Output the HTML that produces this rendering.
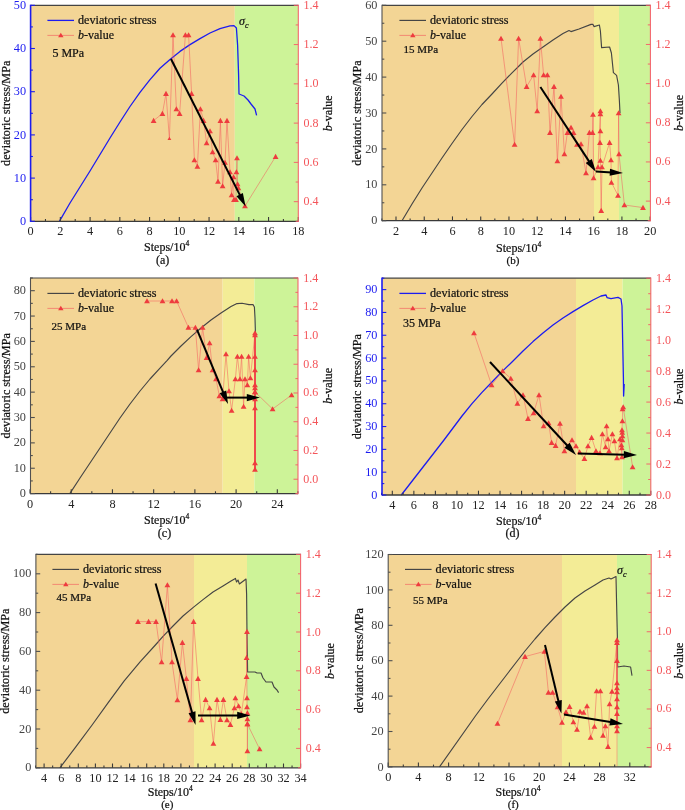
<!DOCTYPE html>
<html><head><meta charset="utf-8"><title>Figure</title>
<style>html,body{margin:0;padding:0;background:#fff}svg{display:block}svg text{font-family:"Liberation Serif","Times New Roman",serif;stroke-width:0.22px}
.k{stroke:#111}</style></head>
<body>
<svg width="685" height="810" viewBox="0 0 685 810">
<rect width="685" height="810" fill="#fff"/>
<g>
<rect x="30.6" y="5.3" width="204.2" height="216" fill="#f3d595"/>
<rect x="234.8" y="5.3" width="63.5" height="216" fill="#cdf398"/>
<polyline points="59.4,221.3 70,203 80,187 90,171 100,154.5 110,138 120,122 130,106.5 140,92.3 150,79.6 160,68.3 170,59.4 180,51.4 190,44.6 200,38.6 210,33 220,28.6 230,25.8 234,25.6 236.4,28 237.6,45 238.6,75 239,94 244,96 248,100 251,104 255,109 256.6,115.4" fill="none" stroke="#1c1cf0" stroke-width="1.3" stroke-linejoin="round"/>
<polyline points="153.6,120.6 162.4,113.6 166,93.6 169.4,138.6 173,35 176.4,109 179.6,113.6 185.4,35 188.6,35 191.6,93.6 194.4,160 197.4,166.4 200.4,109 203.6,120.6 206.6,143 210,131 212.6,152 215.6,160 218,181.4 220.4,120.6 222.6,186 225,162.4 227,120.6 230,172 231.6,195 233.6,177 234,199.6 236,199.6 236.4,172 237,158 237.6,184 238.4,188 245,206 275.6,156.6" fill="none" stroke="#f4555a" stroke-width="0.5" stroke-linejoin="round"/>
<polygon points="150.7,122.92 156.5,122.92 153.6,117.84" fill="#ee3c3e"/>
<polygon points="159.5,115.92 165.3,115.92 162.4,110.84" fill="#ee3c3e"/>
<polygon points="163.1,95.92 168.9,95.92 166,90.84" fill="#ee3c3e"/>
<polygon points="167.5,140.12 171.3,140.12 169.4,136.79" fill="#ee3c3e"/>
<polygon points="170.1,37.32 175.9,37.32 173,32.24" fill="#ee3c3e"/>
<polygon points="173.5,111.32 179.3,111.32 176.4,106.25" fill="#ee3c3e"/>
<polygon points="176.7,115.92 182.5,115.92 179.6,110.84" fill="#ee3c3e"/>
<polygon points="182.5,37.32 188.3,37.32 185.4,32.24" fill="#ee3c3e"/>
<polygon points="185.7,37.32 191.5,37.32 188.6,32.24" fill="#ee3c3e"/>
<polygon points="188.7,95.92 194.5,95.92 191.6,90.84" fill="#ee3c3e"/>
<polygon points="191.5,162.32 197.3,162.32 194.4,157.25" fill="#ee3c3e"/>
<polygon points="194.5,168.72 200.3,168.72 197.4,163.65" fill="#ee3c3e"/>
<polygon points="197.5,111.32 203.3,111.32 200.4,106.25" fill="#ee3c3e"/>
<polygon points="200.7,122.92 206.5,122.92 203.6,117.84" fill="#ee3c3e"/>
<polygon points="203.7,145.32 209.5,145.32 206.6,140.25" fill="#ee3c3e"/>
<polygon points="207.1,133.32 212.9,133.32 210,128.25" fill="#ee3c3e"/>
<polygon points="209.7,154.32 215.5,154.32 212.6,149.25" fill="#ee3c3e"/>
<polygon points="212.7,162.32 218.5,162.32 215.6,157.25" fill="#ee3c3e"/>
<polygon points="215.1,183.72 220.9,183.72 218,178.65" fill="#ee3c3e"/>
<polygon points="217.5,122.92 223.3,122.92 220.4,117.84" fill="#ee3c3e"/>
<polygon points="219.7,188.32 225.5,188.32 222.6,183.25" fill="#ee3c3e"/>
<polygon points="222.1,164.72 227.9,164.72 225,159.65" fill="#ee3c3e"/>
<polygon points="224.1,122.92 229.9,122.92 227,117.84" fill="#ee3c3e"/>
<polygon points="227.1,174.32 232.9,174.32 230,169.25" fill="#ee3c3e"/>
<polygon points="228.7,197.32 234.5,197.32 231.6,192.25" fill="#ee3c3e"/>
<polygon points="230.7,179.32 236.5,179.32 233.6,174.25" fill="#ee3c3e"/>
<polygon points="231.1,201.92 236.9,201.92 234,196.84" fill="#ee3c3e"/>
<polygon points="233.1,201.92 238.9,201.92 236,196.84" fill="#ee3c3e"/>
<polygon points="233.5,174.32 239.3,174.32 236.4,169.25" fill="#ee3c3e"/>
<polygon points="234.1,160.32 239.9,160.32 237,155.25" fill="#ee3c3e"/>
<polygon points="234.7,186.32 240.5,186.32 237.6,181.25" fill="#ee3c3e"/>
<polygon points="235.5,190.32 241.3,190.32 238.4,185.25" fill="#ee3c3e"/>
<polygon points="242.1,208.32 247.9,208.32 245,203.25" fill="#ee3c3e"/>
<polygon points="272.7,158.92 278.5,158.92 275.6,153.84" fill="#ee3c3e"/>
<line x1="171" y1="59" x2="240.54" y2="196.41" stroke="#000" stroke-width="2.0"/><polygon points="245.6,206.4 236.43,196.25 242.85,193" fill="#000"/>
<line x1="30.6" y1="5.3" x2="298.3" y2="5.3" stroke="#444" stroke-width="1.2"/>
<line x1="30.6" y1="221.3" x2="298.3" y2="221.3" stroke="#3a3a3a" stroke-width="1.3"/>
<line x1="30.6" y1="221.3" x2="30.6" y2="217" stroke="#3a3a3a" stroke-width="1.1"/>
<text x="30.6" y="235.4" text-anchor="middle" fill="#222" font-size="12.25">0</text>
<line x1="45.47" y1="221.3" x2="45.47" y2="219" stroke="#3a3a3a" stroke-width="1.1"/>
<line x1="60.34" y1="221.3" x2="60.34" y2="217" stroke="#3a3a3a" stroke-width="1.1"/>
<text x="60.34" y="235.4" text-anchor="middle" fill="#222" font-size="12.25">2</text>
<line x1="75.22" y1="221.3" x2="75.22" y2="219" stroke="#3a3a3a" stroke-width="1.1"/>
<line x1="90.09" y1="221.3" x2="90.09" y2="217" stroke="#3a3a3a" stroke-width="1.1"/>
<text x="90.09" y="235.4" text-anchor="middle" fill="#222" font-size="12.25">4</text>
<line x1="104.96" y1="221.3" x2="104.96" y2="219" stroke="#3a3a3a" stroke-width="1.1"/>
<line x1="119.83" y1="221.3" x2="119.83" y2="217" stroke="#3a3a3a" stroke-width="1.1"/>
<text x="119.83" y="235.4" text-anchor="middle" fill="#222" font-size="12.25">6</text>
<line x1="134.7" y1="221.3" x2="134.7" y2="219" stroke="#3a3a3a" stroke-width="1.1"/>
<line x1="149.58" y1="221.3" x2="149.58" y2="217" stroke="#3a3a3a" stroke-width="1.1"/>
<text x="149.58" y="235.4" text-anchor="middle" fill="#222" font-size="12.25">8</text>
<line x1="164.45" y1="221.3" x2="164.45" y2="219" stroke="#3a3a3a" stroke-width="1.1"/>
<line x1="179.32" y1="221.3" x2="179.32" y2="217" stroke="#3a3a3a" stroke-width="1.1"/>
<text x="179.32" y="235.4" text-anchor="middle" fill="#222" font-size="12.25">10</text>
<line x1="194.19" y1="221.3" x2="194.19" y2="219" stroke="#3a3a3a" stroke-width="1.1"/>
<line x1="209.06" y1="221.3" x2="209.06" y2="217" stroke="#3a3a3a" stroke-width="1.1"/>
<text x="209.06" y="235.4" text-anchor="middle" fill="#222" font-size="12.25">12</text>
<line x1="223.94" y1="221.3" x2="223.94" y2="219" stroke="#3a3a3a" stroke-width="1.1"/>
<line x1="238.81" y1="221.3" x2="238.81" y2="217" stroke="#3a3a3a" stroke-width="1.1"/>
<text x="238.81" y="235.4" text-anchor="middle" fill="#222" font-size="12.25">14</text>
<line x1="253.68" y1="221.3" x2="253.68" y2="219" stroke="#3a3a3a" stroke-width="1.1"/>
<line x1="268.55" y1="221.3" x2="268.55" y2="217" stroke="#3a3a3a" stroke-width="1.1"/>
<text x="268.55" y="235.4" text-anchor="middle" fill="#222" font-size="12.25">16</text>
<line x1="283.42" y1="221.3" x2="283.42" y2="219" stroke="#3a3a3a" stroke-width="1.1"/>
<line x1="298.3" y1="221.3" x2="298.3" y2="217" stroke="#3a3a3a" stroke-width="1.1"/>
<text x="298.3" y="235.4" text-anchor="middle" fill="#222" font-size="12.25">18</text>
<line x1="30.6" y1="4.7" x2="30.6" y2="221.9" stroke="#1c1cf0" stroke-width="1.6"/>
<line x1="30.6" y1="221.3" x2="34.9" y2="221.3" stroke="#1c1cf0" stroke-width="1.1"/>
<text x="26" y="224.9" text-anchor="end" fill="#1c1cf0" font-size="12.25">0</text>
<line x1="30.6" y1="199.7" x2="32.9" y2="199.7" stroke="#1c1cf0" stroke-width="1.1"/>
<line x1="30.6" y1="178.1" x2="34.9" y2="178.1" stroke="#1c1cf0" stroke-width="1.1"/>
<text x="26" y="181.7" text-anchor="end" fill="#1c1cf0" font-size="12.25">10</text>
<line x1="30.6" y1="156.5" x2="32.9" y2="156.5" stroke="#1c1cf0" stroke-width="1.1"/>
<line x1="30.6" y1="134.9" x2="34.9" y2="134.9" stroke="#1c1cf0" stroke-width="1.1"/>
<text x="26" y="138.5" text-anchor="end" fill="#1c1cf0" font-size="12.25">20</text>
<line x1="30.6" y1="113.3" x2="32.9" y2="113.3" stroke="#1c1cf0" stroke-width="1.1"/>
<line x1="30.6" y1="91.7" x2="34.9" y2="91.7" stroke="#1c1cf0" stroke-width="1.1"/>
<text x="26" y="95.3" text-anchor="end" fill="#1c1cf0" font-size="12.25">30</text>
<line x1="30.6" y1="70.1" x2="32.9" y2="70.1" stroke="#1c1cf0" stroke-width="1.1"/>
<line x1="30.6" y1="48.5" x2="34.9" y2="48.5" stroke="#1c1cf0" stroke-width="1.1"/>
<text x="26" y="52.1" text-anchor="end" fill="#1c1cf0" font-size="12.25">40</text>
<line x1="30.6" y1="26.9" x2="32.9" y2="26.9" stroke="#1c1cf0" stroke-width="1.1"/>
<line x1="30.6" y1="5.3" x2="34.9" y2="5.3" stroke="#1c1cf0" stroke-width="1.1"/>
<text x="26" y="8.9" text-anchor="end" fill="#1c1cf0" font-size="12.25">50</text>
<line x1="298.3" y1="4.7" x2="298.3" y2="221.9" stroke="#f4606a" stroke-width="1.05"/>
<line x1="298.3" y1="221.3" x2="295.7" y2="221.3" stroke="#f4606a" stroke-width="0.95"/>
<line x1="298.3" y1="201.66" x2="293.8" y2="201.66" stroke="#f4606a" stroke-width="0.95"/>
<text x="303.5" y="205.16" fill="#f4555a" font-size="12">0.4</text>
<line x1="298.3" y1="182.03" x2="295.7" y2="182.03" stroke="#f4606a" stroke-width="0.95"/>
<line x1="298.3" y1="162.39" x2="293.8" y2="162.39" stroke="#f4606a" stroke-width="0.95"/>
<text x="303.5" y="165.89" fill="#f4555a" font-size="12">0.6</text>
<line x1="298.3" y1="142.75" x2="295.7" y2="142.75" stroke="#f4606a" stroke-width="0.95"/>
<line x1="298.3" y1="123.12" x2="293.8" y2="123.12" stroke="#f4606a" stroke-width="0.95"/>
<text x="303.5" y="126.62" fill="#f4555a" font-size="12">0.8</text>
<line x1="298.3" y1="103.48" x2="295.7" y2="103.48" stroke="#f4606a" stroke-width="0.95"/>
<line x1="298.3" y1="83.85" x2="293.8" y2="83.85" stroke="#f4606a" stroke-width="0.95"/>
<text x="303.5" y="87.35" fill="#f4555a" font-size="12">1.0</text>
<line x1="298.3" y1="64.21" x2="295.7" y2="64.21" stroke="#f4606a" stroke-width="0.95"/>
<line x1="298.3" y1="44.57" x2="293.8" y2="44.57" stroke="#f4606a" stroke-width="0.95"/>
<text x="303.5" y="48.07" fill="#f4555a" font-size="12">1.2</text>
<line x1="298.3" y1="24.94" x2="295.7" y2="24.94" stroke="#f4606a" stroke-width="0.95"/>
<line x1="298.3" y1="5.3" x2="293.8" y2="5.3" stroke="#f4606a" stroke-width="0.95"/>
<text x="303.5" y="8.8" fill="#f4555a" font-size="12">1.4</text>
<line x1="47.4" y1="20.4" x2="74" y2="20.4" stroke="#1c1cf0" stroke-width="1.3"/>
<text x="78" y="24" font-size="12.15" fill="#111" class="k">deviatoric stress</text>
<line x1="47.4" y1="35.4" x2="74" y2="35.4" stroke="#f4555a" stroke-width="0.6"/>
<polygon points="58.1,37.36 63.5,37.36 60.8,32.64" fill="#ee3c3e"/>
<text x="78" y="39" font-size="12" fill="#111" class="k"><tspan font-style="italic">b</tspan>-value</text>
<text x="52.4" y="57.4" font-size="12" fill="#111" class="k">5 MPa</text>
<text transform="translate(9.6,113.3) rotate(-90)" text-anchor="middle" font-size="12.2" fill="#111" class="k">deviatoric stress/MPa</text>
<text transform="translate(331.6,113.3) rotate(-90)" text-anchor="middle" font-size="12" fill="#111" class="k"><tspan font-style="italic">b</tspan>-value</text>
<text x="166.6" y="250.6" text-anchor="middle" font-size="12" fill="#111" class="k">Steps/10<tspan font-size="7.5" dy="-5">4</tspan></text>
<text x="162.7" y="263.6" text-anchor="middle" font-size="12" fill="#111" class="k">(a)</text>
<text x="239" y="25" font-size="12" font-style="italic" fill="#111" class="k">σ<tspan font-size="8" dy="2.5">c</tspan></text>
</g>
<g>
<rect x="382" y="5.3" width="212" height="215.4" fill="#f3d595"/>
<rect x="594" y="5.3" width="25" height="215.4" fill="#f3ec96"/>
<rect x="619" y="5.3" width="31.4" height="215.4" fill="#cdf398"/>
<polyline points="402,220.7 412,204 422,188 432,173 442,158 452,143.5 462,129.5 472,116.5 482,104.5 492,94 502,83.2 512,72.8 519,66 523,62 533,54 543,47 553,40 563,33.6 569,30.6 571,31.6 579,29 591,24.4 593,24.4 594,26.6 599.4,25 600.4,31 601.6,47.6 609.6,47 611.4,53 613.4,72.6 616.6,75.4 618.4,85 619.4,101 620,113" fill="none" stroke="#454545" stroke-width="1.15" stroke-linejoin="round"/>
<polyline points="501,38.4 514.6,144.4 518.6,38.4 526.6,86.6 533.6,75 537.2,111 540.4,38.4 543.6,75 547.4,75 550,132.6 554,86.6 557.4,161 561,96.4 564.4,154 567.4,132.6 571,127.4 573.6,132.6 577,144.4 581,144 586,173 589.4,132.6 592.6,132.6 593,114.4 593.6,178 598,167 600.4,111 600.4,114 600.4,131 600,142.6 600.4,160.4 601.2,210.6 602,167 609.6,142.6 611,160 611.4,182.4 618,195.4 618.6,113 619,154 624.4,205 643,207.6" fill="none" stroke="#f4555a" stroke-width="0.5" stroke-linejoin="round"/>
<polygon points="498.1,40.72 503.9,40.72 501,35.64" fill="#ee3c3e"/>
<polygon points="511.7,146.72 517.5,146.72 514.6,141.65" fill="#ee3c3e"/>
<polygon points="515.7,40.72 521.5,40.72 518.6,35.64" fill="#ee3c3e"/>
<polygon points="523.7,88.92 529.5,88.92 526.6,83.84" fill="#ee3c3e"/>
<polygon points="530.7,77.32 536.5,77.32 533.6,72.25" fill="#ee3c3e"/>
<polygon points="534.3,113.32 540.1,113.32 537.2,108.25" fill="#ee3c3e"/>
<polygon points="537.5,40.72 543.3,40.72 540.4,35.64" fill="#ee3c3e"/>
<polygon points="540.7,77.32 546.5,77.32 543.6,72.25" fill="#ee3c3e"/>
<polygon points="544.5,77.32 550.3,77.32 547.4,72.25" fill="#ee3c3e"/>
<polygon points="547.1,134.92 552.9,134.92 550,129.84" fill="#ee3c3e"/>
<polygon points="551.1,88.92 556.9,88.92 554,83.84" fill="#ee3c3e"/>
<polygon points="554.5,163.32 560.3,163.32 557.4,158.25" fill="#ee3c3e"/>
<polygon points="558.1,98.72 563.9,98.72 561,93.65" fill="#ee3c3e"/>
<polygon points="561.5,156.32 567.3,156.32 564.4,151.25" fill="#ee3c3e"/>
<polygon points="564.5,134.92 570.3,134.92 567.4,129.84" fill="#ee3c3e"/>
<polygon points="568.1,129.72 573.9,129.72 571,124.65" fill="#ee3c3e"/>
<polygon points="570.7,134.92 576.5,134.92 573.6,129.84" fill="#ee3c3e"/>
<polygon points="574.1,146.72 579.9,146.72 577,141.65" fill="#ee3c3e"/>
<polygon points="578.1,146.32 583.9,146.32 581,141.25" fill="#ee3c3e"/>
<polygon points="583.1,175.32 588.9,175.32 586,170.25" fill="#ee3c3e"/>
<polygon points="586.5,134.92 592.3,134.92 589.4,129.84" fill="#ee3c3e"/>
<polygon points="589.7,134.92 595.5,134.92 592.6,129.84" fill="#ee3c3e"/>
<polygon points="590.1,116.72 595.9,116.72 593,111.65" fill="#ee3c3e"/>
<polygon points="590.7,180.32 596.5,180.32 593.6,175.25" fill="#ee3c3e"/>
<polygon points="595.1,169.32 600.9,169.32 598,164.25" fill="#ee3c3e"/>
<polygon points="597.5,113.32 603.3,113.32 600.4,108.25" fill="#ee3c3e"/>
<polygon points="597.5,116.32 603.3,116.32 600.4,111.25" fill="#ee3c3e"/>
<polygon points="597.5,133.32 603.3,133.32 600.4,128.25" fill="#ee3c3e"/>
<polygon points="597.1,144.92 602.9,144.92 600,139.84" fill="#ee3c3e"/>
<polygon points="597.5,162.72 603.3,162.72 600.4,157.65" fill="#ee3c3e"/>
<polygon points="598.3,212.92 604.1,212.92 601.2,207.84" fill="#ee3c3e"/>
<polygon points="599.1,169.32 604.9,169.32 602,164.25" fill="#ee3c3e"/>
<polygon points="606.7,144.92 612.5,144.92 609.6,139.84" fill="#ee3c3e"/>
<polygon points="608.1,162.32 613.9,162.32 611,157.25" fill="#ee3c3e"/>
<polygon points="608.5,184.72 614.3,184.72 611.4,179.65" fill="#ee3c3e"/>
<polygon points="615.1,197.72 620.9,197.72 618,192.65" fill="#ee3c3e"/>
<polygon points="615.7,115.32 621.5,115.32 618.6,110.25" fill="#ee3c3e"/>
<polygon points="616.1,156.32 621.9,156.32 619,151.25" fill="#ee3c3e"/>
<polygon points="621.5,207.32 627.3,207.32 624.4,202.25" fill="#ee3c3e"/>
<polygon points="640.1,209.92 645.9,209.92 643,204.84" fill="#ee3c3e"/>
<line x1="540.4" y1="87" x2="589.87" y2="162.63" stroke="#000" stroke-width="2.0"/><polygon points="596,172 585.76,162.92 591.79,158.98" fill="#000"/>
<line x1="596" y1="171.5" x2="611.82" y2="172.38" stroke="#000" stroke-width="2.0"/><polygon points="623,173 609.62,175.86 610.02,168.67" fill="#000"/>
<line x1="382" y1="5.3" x2="650.4" y2="5.3" stroke="#444" stroke-width="1.2"/>
<line x1="382" y1="220.7" x2="650.4" y2="220.7" stroke="#3a3a3a" stroke-width="1.3"/>
<line x1="381.88" y1="220.7" x2="381.88" y2="218.4" stroke="#3a3a3a" stroke-width="1.1"/>
<line x1="396" y1="220.7" x2="396" y2="216.4" stroke="#3a3a3a" stroke-width="1.1"/>
<text x="396" y="235.4" text-anchor="middle" fill="#222" font-size="12.25">2</text>
<line x1="410.12" y1="220.7" x2="410.12" y2="218.4" stroke="#3a3a3a" stroke-width="1.1"/>
<line x1="424.24" y1="220.7" x2="424.24" y2="216.4" stroke="#3a3a3a" stroke-width="1.1"/>
<text x="424.24" y="235.4" text-anchor="middle" fill="#222" font-size="12.25">4</text>
<line x1="438.36" y1="220.7" x2="438.36" y2="218.4" stroke="#3a3a3a" stroke-width="1.1"/>
<line x1="452.48" y1="220.7" x2="452.48" y2="216.4" stroke="#3a3a3a" stroke-width="1.1"/>
<text x="452.48" y="235.4" text-anchor="middle" fill="#222" font-size="12.25">6</text>
<line x1="466.6" y1="220.7" x2="466.6" y2="218.4" stroke="#3a3a3a" stroke-width="1.1"/>
<line x1="480.72" y1="220.7" x2="480.72" y2="216.4" stroke="#3a3a3a" stroke-width="1.1"/>
<text x="480.72" y="235.4" text-anchor="middle" fill="#222" font-size="12.25">8</text>
<line x1="494.84" y1="220.7" x2="494.84" y2="218.4" stroke="#3a3a3a" stroke-width="1.1"/>
<line x1="508.96" y1="220.7" x2="508.96" y2="216.4" stroke="#3a3a3a" stroke-width="1.1"/>
<text x="508.96" y="235.4" text-anchor="middle" fill="#222" font-size="12.25">10</text>
<line x1="523.08" y1="220.7" x2="523.08" y2="218.4" stroke="#3a3a3a" stroke-width="1.1"/>
<line x1="537.2" y1="220.7" x2="537.2" y2="216.4" stroke="#3a3a3a" stroke-width="1.1"/>
<text x="537.2" y="235.4" text-anchor="middle" fill="#222" font-size="12.25">12</text>
<line x1="551.32" y1="220.7" x2="551.32" y2="218.4" stroke="#3a3a3a" stroke-width="1.1"/>
<line x1="565.44" y1="220.7" x2="565.44" y2="216.4" stroke="#3a3a3a" stroke-width="1.1"/>
<text x="565.44" y="235.4" text-anchor="middle" fill="#222" font-size="12.25">14</text>
<line x1="579.56" y1="220.7" x2="579.56" y2="218.4" stroke="#3a3a3a" stroke-width="1.1"/>
<line x1="593.68" y1="220.7" x2="593.68" y2="216.4" stroke="#3a3a3a" stroke-width="1.1"/>
<text x="593.68" y="235.4" text-anchor="middle" fill="#222" font-size="12.25">16</text>
<line x1="607.8" y1="220.7" x2="607.8" y2="218.4" stroke="#3a3a3a" stroke-width="1.1"/>
<line x1="621.92" y1="220.7" x2="621.92" y2="216.4" stroke="#3a3a3a" stroke-width="1.1"/>
<text x="621.92" y="235.4" text-anchor="middle" fill="#222" font-size="12.25">18</text>
<line x1="636.04" y1="220.7" x2="636.04" y2="218.4" stroke="#3a3a3a" stroke-width="1.1"/>
<line x1="650.16" y1="220.7" x2="650.16" y2="216.4" stroke="#3a3a3a" stroke-width="1.1"/>
<text x="650.16" y="235.4" text-anchor="middle" fill="#222" font-size="12.25">20</text>
<line x1="382" y1="4.7" x2="382" y2="221.3" stroke="#505050" stroke-width="1.1"/>
<line x1="382" y1="220.7" x2="386.3" y2="220.7" stroke="#505050" stroke-width="1.1"/>
<text x="377.4" y="224.3" text-anchor="end" fill="#444" font-size="12.25">0</text>
<line x1="382" y1="202.75" x2="384.3" y2="202.75" stroke="#505050" stroke-width="1.1"/>
<line x1="382" y1="184.8" x2="386.3" y2="184.8" stroke="#505050" stroke-width="1.1"/>
<text x="377.4" y="188.4" text-anchor="end" fill="#444" font-size="12.25">10</text>
<line x1="382" y1="166.85" x2="384.3" y2="166.85" stroke="#505050" stroke-width="1.1"/>
<line x1="382" y1="148.9" x2="386.3" y2="148.9" stroke="#505050" stroke-width="1.1"/>
<text x="377.4" y="152.5" text-anchor="end" fill="#444" font-size="12.25">20</text>
<line x1="382" y1="130.95" x2="384.3" y2="130.95" stroke="#505050" stroke-width="1.1"/>
<line x1="382" y1="113" x2="386.3" y2="113" stroke="#505050" stroke-width="1.1"/>
<text x="377.4" y="116.6" text-anchor="end" fill="#444" font-size="12.25">30</text>
<line x1="382" y1="95.05" x2="384.3" y2="95.05" stroke="#505050" stroke-width="1.1"/>
<line x1="382" y1="77.1" x2="386.3" y2="77.1" stroke="#505050" stroke-width="1.1"/>
<text x="377.4" y="80.7" text-anchor="end" fill="#444" font-size="12.25">40</text>
<line x1="382" y1="59.15" x2="384.3" y2="59.15" stroke="#505050" stroke-width="1.1"/>
<line x1="382" y1="41.2" x2="386.3" y2="41.2" stroke="#505050" stroke-width="1.1"/>
<text x="377.4" y="44.8" text-anchor="end" fill="#444" font-size="12.25">50</text>
<line x1="382" y1="23.25" x2="384.3" y2="23.25" stroke="#505050" stroke-width="1.1"/>
<line x1="382" y1="5.3" x2="386.3" y2="5.3" stroke="#505050" stroke-width="1.1"/>
<text x="377.4" y="8.9" text-anchor="end" fill="#444" font-size="12.25">60</text>
<line x1="650.4" y1="4.7" x2="650.4" y2="221.3" stroke="#f4606a" stroke-width="1.05"/>
<line x1="650.4" y1="220.7" x2="647.8" y2="220.7" stroke="#f4606a" stroke-width="0.95"/>
<line x1="650.4" y1="201.12" x2="645.9" y2="201.12" stroke="#f4606a" stroke-width="0.95"/>
<text x="655.6" y="204.62" fill="#f4555a" font-size="12">0.4</text>
<line x1="650.4" y1="181.54" x2="647.8" y2="181.54" stroke="#f4606a" stroke-width="0.95"/>
<line x1="650.4" y1="161.95" x2="645.9" y2="161.95" stroke="#f4606a" stroke-width="0.95"/>
<text x="655.6" y="165.45" fill="#f4555a" font-size="12">0.6</text>
<line x1="650.4" y1="142.37" x2="647.8" y2="142.37" stroke="#f4606a" stroke-width="0.95"/>
<line x1="650.4" y1="122.79" x2="645.9" y2="122.79" stroke="#f4606a" stroke-width="0.95"/>
<text x="655.6" y="126.29" fill="#f4555a" font-size="12">0.8</text>
<line x1="650.4" y1="103.21" x2="647.8" y2="103.21" stroke="#f4606a" stroke-width="0.95"/>
<line x1="650.4" y1="83.63" x2="645.9" y2="83.63" stroke="#f4606a" stroke-width="0.95"/>
<text x="655.6" y="87.13" fill="#f4555a" font-size="12">1.0</text>
<line x1="650.4" y1="64.05" x2="647.8" y2="64.05" stroke="#f4606a" stroke-width="0.95"/>
<line x1="650.4" y1="44.46" x2="645.9" y2="44.46" stroke="#f4606a" stroke-width="0.95"/>
<text x="655.6" y="47.96" fill="#f4555a" font-size="12">1.2</text>
<line x1="650.4" y1="24.88" x2="647.8" y2="24.88" stroke="#f4606a" stroke-width="0.95"/>
<line x1="650.4" y1="5.3" x2="645.9" y2="5.3" stroke="#f4606a" stroke-width="0.95"/>
<text x="655.6" y="8.8" fill="#f4555a" font-size="12">1.4</text>
<line x1="399.4" y1="20.4" x2="426" y2="20.4" stroke="#454545" stroke-width="1.15"/>
<text x="430" y="24" font-size="12.15" fill="#111" class="k">deviatoric stress</text>
<line x1="399.4" y1="35.4" x2="426" y2="35.4" stroke="#f4555a" stroke-width="0.6"/>
<polygon points="410.1,37.36 415.5,37.36 412.8,32.64" fill="#ee3c3e"/>
<text x="430" y="39" font-size="12" fill="#111" class="k"><tspan font-style="italic">b</tspan>-value</text>
<text x="403.6" y="52.6" font-size="11" fill="#111" class="k">15 MPa</text>
<text transform="translate(361,113) rotate(-90)" text-anchor="middle" font-size="12.2" fill="#111" class="k">deviatoric stress/MPa</text>
<text transform="translate(683,113) rotate(-90)" text-anchor="middle" font-size="12" fill="#111" class="k"><tspan font-style="italic">b</tspan>-value</text>
<text x="518.6" y="251.6" text-anchor="middle" font-size="12" fill="#111" class="k">Steps/10<tspan font-size="7.5" dy="-5">4</tspan></text>
<text x="513" y="263.6" text-anchor="middle" font-size="11" fill="#111" class="k">(b)</text>
</g>
<g>
<rect x="30.5" y="278" width="192.1" height="215.6" fill="#f3d595"/>
<rect x="222.6" y="278" width="31.8" height="215.6" fill="#f3ec96"/>
<rect x="254.4" y="278" width="43.6" height="215.6" fill="#cdf398"/>
<polyline points="69.8,493.6 80,478 90,463 100,448 110,433 120,418 130,404 140,391 150,379 160,368.2 167,360.6 171,356 181,346 191,336.6 201,328 211,320 221,313 231,306.6 237,303.6 242,303.2 249,304.6 253,304.6 254.4,307 255,318 255.4,332" fill="none" stroke="#454545" stroke-width="1.15" stroke-linejoin="round"/>
<polyline points="147,301 162.5,301 172,301 176.6,301 188.4,327.4 195.4,327.4 198.6,370 202.6,327.4 206.6,357.6 209.6,343 212.6,370 216,379 219.4,396 222.6,399 226,354 229,391 231.6,410.4 235.4,379 237.4,356.4 240,379 241.6,356.4 243.6,406.4 245,379 247.4,385 248.6,356.4 250.4,378 255,333 255,335 255,356.4 255,370 255,385 255,388 255,392 255,399 255,408 255,463 255,469.4 255,392 272.6,409 291.6,395" fill="none" stroke="#f4555a" stroke-width="0.5" stroke-linejoin="round"/>
<line x1="255" y1="332" x2="255" y2="470" stroke="#f04a4c" stroke-width="2"/>
<polygon points="144.1,303.32 149.9,303.32 147,298.25" fill="#ee3c3e"/>
<polygon points="159.6,303.32 165.4,303.32 162.5,298.25" fill="#ee3c3e"/>
<polygon points="169.1,303.32 174.9,303.32 172,298.25" fill="#ee3c3e"/>
<polygon points="173.7,303.32 179.5,303.32 176.6,298.25" fill="#ee3c3e"/>
<polygon points="185.5,329.72 191.3,329.72 188.4,324.64" fill="#ee3c3e"/>
<polygon points="192.5,329.72 198.3,329.72 195.4,324.64" fill="#ee3c3e"/>
<polygon points="195.7,372.32 201.5,372.32 198.6,367.25" fill="#ee3c3e"/>
<polygon points="199.7,329.72 205.5,329.72 202.6,324.64" fill="#ee3c3e"/>
<polygon points="203.7,359.92 209.5,359.92 206.6,354.85" fill="#ee3c3e"/>
<polygon points="206.7,345.32 212.5,345.32 209.6,340.25" fill="#ee3c3e"/>
<polygon points="209.7,372.32 215.5,372.32 212.6,367.25" fill="#ee3c3e"/>
<polygon points="213.1,381.32 218.9,381.32 216,376.25" fill="#ee3c3e"/>
<polygon points="216.5,398.32 222.3,398.32 219.4,393.25" fill="#ee3c3e"/>
<polygon points="219.7,401.32 225.5,401.32 222.6,396.25" fill="#ee3c3e"/>
<polygon points="223.1,356.32 228.9,356.32 226,351.25" fill="#ee3c3e"/>
<polygon points="226.1,393.32 231.9,393.32 229,388.25" fill="#ee3c3e"/>
<polygon points="228.7,412.72 234.5,412.72 231.6,407.64" fill="#ee3c3e"/>
<polygon points="232.5,381.32 238.3,381.32 235.4,376.25" fill="#ee3c3e"/>
<polygon points="234.5,358.72 240.3,358.72 237.4,353.64" fill="#ee3c3e"/>
<polygon points="237.1,381.32 242.9,381.32 240,376.25" fill="#ee3c3e"/>
<polygon points="238.7,358.72 244.5,358.72 241.6,353.64" fill="#ee3c3e"/>
<polygon points="240.7,408.72 246.5,408.72 243.6,403.64" fill="#ee3c3e"/>
<polygon points="242.1,381.32 247.9,381.32 245,376.25" fill="#ee3c3e"/>
<polygon points="244.5,387.32 250.3,387.32 247.4,382.25" fill="#ee3c3e"/>
<polygon points="245.7,358.72 251.5,358.72 248.6,353.64" fill="#ee3c3e"/>
<polygon points="247.5,380.32 253.3,380.32 250.4,375.25" fill="#ee3c3e"/>
<polygon points="252.1,335.32 257.9,335.32 255,330.25" fill="#ee3c3e"/>
<polygon points="252.1,337.32 257.9,337.32 255,332.25" fill="#ee3c3e"/>
<polygon points="252.1,358.72 257.9,358.72 255,353.64" fill="#ee3c3e"/>
<polygon points="252.1,372.32 257.9,372.32 255,367.25" fill="#ee3c3e"/>
<polygon points="252.1,387.32 257.9,387.32 255,382.25" fill="#ee3c3e"/>
<polygon points="252.1,390.32 257.9,390.32 255,385.25" fill="#ee3c3e"/>
<polygon points="252.1,394.32 257.9,394.32 255,389.25" fill="#ee3c3e"/>
<polygon points="252.1,401.32 257.9,401.32 255,396.25" fill="#ee3c3e"/>
<polygon points="252.1,410.32 257.9,410.32 255,405.25" fill="#ee3c3e"/>
<polygon points="252.1,465.32 257.9,465.32 255,460.25" fill="#ee3c3e"/>
<polygon points="252.1,471.72 257.9,471.72 255,466.64" fill="#ee3c3e"/>
<polygon points="252.1,394.32 257.9,394.32 255,389.25" fill="#ee3c3e"/>
<polygon points="269.7,411.32 275.5,411.32 272.6,406.25" fill="#ee3c3e"/>
<polygon points="288.7,397.32 294.5,397.32 291.6,392.25" fill="#ee3c3e"/>
<line x1="197" y1="329.6" x2="223.69" y2="393.66" stroke="#000" stroke-width="2.0"/><polygon points="228,404 219.6,393.2 226.25,390.43" fill="#000"/>
<line x1="227" y1="397.6" x2="248.8" y2="397.6" stroke="#000" stroke-width="2.0"/><polygon points="260,397.6 246.8,401.2 246.8,394" fill="#000"/>
<line x1="30.5" y1="278" x2="298" y2="278" stroke="#444" stroke-width="1.2"/>
<line x1="30.5" y1="493.6" x2="298" y2="493.6" stroke="#3a3a3a" stroke-width="1.3"/>
<line x1="30" y1="493.6" x2="30" y2="489.3" stroke="#3a3a3a" stroke-width="1.1"/>
<text x="30" y="508" text-anchor="middle" fill="#222" font-size="12.25">0</text>
<line x1="50.61" y1="493.6" x2="50.61" y2="491.3" stroke="#3a3a3a" stroke-width="1.1"/>
<line x1="71.22" y1="493.6" x2="71.22" y2="489.3" stroke="#3a3a3a" stroke-width="1.1"/>
<text x="71.22" y="508" text-anchor="middle" fill="#222" font-size="12.25">4</text>
<line x1="91.83" y1="493.6" x2="91.83" y2="491.3" stroke="#3a3a3a" stroke-width="1.1"/>
<line x1="112.44" y1="493.6" x2="112.44" y2="489.3" stroke="#3a3a3a" stroke-width="1.1"/>
<text x="112.44" y="508" text-anchor="middle" fill="#222" font-size="12.25">8</text>
<line x1="133.05" y1="493.6" x2="133.05" y2="491.3" stroke="#3a3a3a" stroke-width="1.1"/>
<line x1="153.66" y1="493.6" x2="153.66" y2="489.3" stroke="#3a3a3a" stroke-width="1.1"/>
<text x="153.66" y="508" text-anchor="middle" fill="#222" font-size="12.25">12</text>
<line x1="174.27" y1="493.6" x2="174.27" y2="491.3" stroke="#3a3a3a" stroke-width="1.1"/>
<line x1="194.88" y1="493.6" x2="194.88" y2="489.3" stroke="#3a3a3a" stroke-width="1.1"/>
<text x="194.88" y="508" text-anchor="middle" fill="#222" font-size="12.25">16</text>
<line x1="215.49" y1="493.6" x2="215.49" y2="491.3" stroke="#3a3a3a" stroke-width="1.1"/>
<line x1="236.1" y1="493.6" x2="236.1" y2="489.3" stroke="#3a3a3a" stroke-width="1.1"/>
<text x="236.1" y="508" text-anchor="middle" fill="#222" font-size="12.25">20</text>
<line x1="256.71" y1="493.6" x2="256.71" y2="491.3" stroke="#3a3a3a" stroke-width="1.1"/>
<line x1="277.32" y1="493.6" x2="277.32" y2="489.3" stroke="#3a3a3a" stroke-width="1.1"/>
<text x="277.32" y="508" text-anchor="middle" fill="#222" font-size="12.25">24</text>
<line x1="297.93" y1="493.6" x2="297.93" y2="491.3" stroke="#3a3a3a" stroke-width="1.1"/>
<line x1="30.5" y1="277.4" x2="30.5" y2="494.2" stroke="#505050" stroke-width="1.1"/>
<line x1="30.5" y1="493.6" x2="34.8" y2="493.6" stroke="#505050" stroke-width="1.1"/>
<text x="25.9" y="497.2" text-anchor="end" fill="#444" font-size="12.25">0</text>
<line x1="30.5" y1="480.92" x2="32.8" y2="480.92" stroke="#505050" stroke-width="1.1"/>
<line x1="30.5" y1="468.24" x2="34.8" y2="468.24" stroke="#505050" stroke-width="1.1"/>
<text x="25.9" y="471.84" text-anchor="end" fill="#444" font-size="12.25">10</text>
<line x1="30.5" y1="455.55" x2="32.8" y2="455.55" stroke="#505050" stroke-width="1.1"/>
<line x1="30.5" y1="442.87" x2="34.8" y2="442.87" stroke="#505050" stroke-width="1.1"/>
<text x="25.9" y="446.47" text-anchor="end" fill="#444" font-size="12.25">20</text>
<line x1="30.5" y1="430.19" x2="32.8" y2="430.19" stroke="#505050" stroke-width="1.1"/>
<line x1="30.5" y1="417.51" x2="34.8" y2="417.51" stroke="#505050" stroke-width="1.1"/>
<text x="25.9" y="421.11" text-anchor="end" fill="#444" font-size="12.25">30</text>
<line x1="30.5" y1="404.82" x2="32.8" y2="404.82" stroke="#505050" stroke-width="1.1"/>
<line x1="30.5" y1="392.14" x2="34.8" y2="392.14" stroke="#505050" stroke-width="1.1"/>
<text x="25.9" y="395.74" text-anchor="end" fill="#444" font-size="12.25">40</text>
<line x1="30.5" y1="379.46" x2="32.8" y2="379.46" stroke="#505050" stroke-width="1.1"/>
<line x1="30.5" y1="366.78" x2="34.8" y2="366.78" stroke="#505050" stroke-width="1.1"/>
<text x="25.9" y="370.38" text-anchor="end" fill="#444" font-size="12.25">50</text>
<line x1="30.5" y1="354.09" x2="32.8" y2="354.09" stroke="#505050" stroke-width="1.1"/>
<line x1="30.5" y1="341.41" x2="34.8" y2="341.41" stroke="#505050" stroke-width="1.1"/>
<text x="25.9" y="345.01" text-anchor="end" fill="#444" font-size="12.25">60</text>
<line x1="30.5" y1="328.73" x2="32.8" y2="328.73" stroke="#505050" stroke-width="1.1"/>
<line x1="30.5" y1="316.05" x2="34.8" y2="316.05" stroke="#505050" stroke-width="1.1"/>
<text x="25.9" y="319.65" text-anchor="end" fill="#444" font-size="12.25">70</text>
<line x1="30.5" y1="303.36" x2="32.8" y2="303.36" stroke="#505050" stroke-width="1.1"/>
<line x1="30.5" y1="290.68" x2="34.8" y2="290.68" stroke="#505050" stroke-width="1.1"/>
<text x="25.9" y="294.28" text-anchor="end" fill="#444" font-size="12.25">80</text>
<line x1="30.5" y1="278" x2="32.8" y2="278" stroke="#505050" stroke-width="1.1"/>
<line x1="298" y1="277.4" x2="298" y2="494.2" stroke="#f4606a" stroke-width="1.05"/>
<line x1="298" y1="493.6" x2="295.4" y2="493.6" stroke="#f4606a" stroke-width="0.95"/>
<line x1="298" y1="479.23" x2="293.5" y2="479.23" stroke="#f4606a" stroke-width="0.95"/>
<text x="303.2" y="482.73" fill="#f4555a" font-size="12">0.0</text>
<line x1="298" y1="464.85" x2="295.4" y2="464.85" stroke="#f4606a" stroke-width="0.95"/>
<line x1="298" y1="450.48" x2="293.5" y2="450.48" stroke="#f4606a" stroke-width="0.95"/>
<text x="303.2" y="453.98" fill="#f4555a" font-size="12">0.2</text>
<line x1="298" y1="436.11" x2="295.4" y2="436.11" stroke="#f4606a" stroke-width="0.95"/>
<line x1="298" y1="421.73" x2="293.5" y2="421.73" stroke="#f4606a" stroke-width="0.95"/>
<text x="303.2" y="425.23" fill="#f4555a" font-size="12">0.4</text>
<line x1="298" y1="407.36" x2="295.4" y2="407.36" stroke="#f4606a" stroke-width="0.95"/>
<line x1="298" y1="392.99" x2="293.5" y2="392.99" stroke="#f4606a" stroke-width="0.95"/>
<text x="303.2" y="396.49" fill="#f4555a" font-size="12">0.6</text>
<line x1="298" y1="378.61" x2="295.4" y2="378.61" stroke="#f4606a" stroke-width="0.95"/>
<line x1="298" y1="364.24" x2="293.5" y2="364.24" stroke="#f4606a" stroke-width="0.95"/>
<text x="303.2" y="367.74" fill="#f4555a" font-size="12">0.8</text>
<line x1="298" y1="349.87" x2="295.4" y2="349.87" stroke="#f4606a" stroke-width="0.95"/>
<line x1="298" y1="335.49" x2="293.5" y2="335.49" stroke="#f4606a" stroke-width="0.95"/>
<text x="303.2" y="338.99" fill="#f4555a" font-size="12">1.0</text>
<line x1="298" y1="321.12" x2="295.4" y2="321.12" stroke="#f4606a" stroke-width="0.95"/>
<line x1="298" y1="306.75" x2="293.5" y2="306.75" stroke="#f4606a" stroke-width="0.95"/>
<text x="303.2" y="310.25" fill="#f4555a" font-size="12">1.2</text>
<line x1="298" y1="292.37" x2="295.4" y2="292.37" stroke="#f4606a" stroke-width="0.95"/>
<line x1="298" y1="278" x2="293.5" y2="278" stroke="#f4606a" stroke-width="0.95"/>
<text x="303.2" y="281.5" fill="#f4555a" font-size="12">1.4</text>
<line x1="47.4" y1="293.4" x2="74" y2="293.4" stroke="#454545" stroke-width="1.15"/>
<text x="78" y="297" font-size="12.15" fill="#111" class="k">deviatoric stress</text>
<line x1="47.4" y1="308.4" x2="74" y2="308.4" stroke="#f4555a" stroke-width="0.6"/>
<polygon points="58.1,310.36 63.5,310.36 60.8,305.63" fill="#ee3c3e"/>
<text x="78" y="312" font-size="12" fill="#111" class="k"><tspan font-style="italic">b</tspan>-value</text>
<text x="51.6" y="329.6" font-size="11" fill="#111" class="k">25 MPa</text>
<text transform="translate(9.6,385.8) rotate(-90)" text-anchor="middle" font-size="12.2" fill="#111" class="k">deviatoric stress/MPa</text>
<text transform="translate(331.6,385.8) rotate(-90)" text-anchor="middle" font-size="12" fill="#111" class="k"><tspan font-style="italic">b</tspan>-value</text>
<text x="166.6" y="523.6" text-anchor="middle" font-size="12" fill="#111" class="k">Steps/10<tspan font-size="7.5" dy="-5">4</tspan></text>
<text x="164.5" y="536.6" text-anchor="middle" font-size="12" fill="#111" class="k">(c)</text>
</g>
<g>
<rect x="382" y="278.2" width="194" height="216.8" fill="#f3d595"/>
<rect x="576" y="278.2" width="46.6" height="216.8" fill="#f3ec96"/>
<rect x="622.6" y="278.2" width="28.2" height="216.8" fill="#cdf398"/>
<polyline points="401.3,495 444,440 462,416 472,403.6 482,392.4 492,382 502,371.6 512,362 519,355 523,351 533,341.6 543,333 553,325 563,318 573,311.6 583,305.6 593,300 601,296 606,295 607,297.6 611,298.6 618,297.4 621,299 622,306 622.6,338 623.4,378 623.6,396 624.2,384" fill="none" stroke="#1c1cf0" stroke-width="1.3" stroke-linejoin="round"/>
<polyline points="474,333 491.6,385 502.6,371 510.8,378.4 517.4,403.4 523,395 528,418.6 533.6,413 539,395 543.6,426 548.6,423 551.6,442.6 555.6,445.6 560,423.4 564.4,451 568,446 572,440 576,446 579.6,452 584.4,458.6 588,446 591.6,437.6 596,451 600,453 602.4,434 605.6,447 606.6,426 608,439 609,451 612.4,434 614.4,441 617,458 620,439 621.4,445 622,457 621.8,448 622.4,440 622.4,436 622.2,432.5 622,430 622.4,421 622.6,409 623.2,407 632.6,467" fill="none" stroke="#f4555a" stroke-width="0.5" stroke-linejoin="round"/>
<polygon points="471.1,335.32 476.9,335.32 474,330.25" fill="#ee3c3e"/>
<polygon points="488.7,387.32 494.5,387.32 491.6,382.25" fill="#ee3c3e"/>
<polygon points="499.7,373.32 505.5,373.32 502.6,368.25" fill="#ee3c3e"/>
<polygon points="507.9,380.72 513.7,380.72 510.8,375.64" fill="#ee3c3e"/>
<polygon points="514.5,405.72 520.3,405.72 517.4,400.64" fill="#ee3c3e"/>
<polygon points="520.1,397.32 525.9,397.32 523,392.25" fill="#ee3c3e"/>
<polygon points="525.1,420.92 530.9,420.92 528,415.85" fill="#ee3c3e"/>
<polygon points="530.7,415.32 536.5,415.32 533.6,410.25" fill="#ee3c3e"/>
<polygon points="536.1,397.32 541.9,397.32 539,392.25" fill="#ee3c3e"/>
<polygon points="540.7,428.32 546.5,428.32 543.6,423.25" fill="#ee3c3e"/>
<polygon points="545.7,425.32 551.5,425.32 548.6,420.25" fill="#ee3c3e"/>
<polygon points="548.7,444.92 554.5,444.92 551.6,439.85" fill="#ee3c3e"/>
<polygon points="552.7,447.92 558.5,447.92 555.6,442.85" fill="#ee3c3e"/>
<polygon points="557.1,425.72 562.9,425.72 560,420.64" fill="#ee3c3e"/>
<polygon points="561.5,453.32 567.3,453.32 564.4,448.25" fill="#ee3c3e"/>
<polygon points="565.1,448.32 570.9,448.32 568,443.25" fill="#ee3c3e"/>
<polygon points="569.1,442.32 574.9,442.32 572,437.25" fill="#ee3c3e"/>
<polygon points="573.1,448.32 578.9,448.32 576,443.25" fill="#ee3c3e"/>
<polygon points="576.7,454.32 582.5,454.32 579.6,449.25" fill="#ee3c3e"/>
<polygon points="581.5,460.92 587.3,460.92 584.4,455.85" fill="#ee3c3e"/>
<polygon points="585.1,448.32 590.9,448.32 588,443.25" fill="#ee3c3e"/>
<polygon points="588.7,439.92 594.5,439.92 591.6,434.85" fill="#ee3c3e"/>
<polygon points="593.1,453.32 598.9,453.32 596,448.25" fill="#ee3c3e"/>
<polygon points="597.1,455.32 602.9,455.32 600,450.25" fill="#ee3c3e"/>
<polygon points="599.5,436.32 605.3,436.32 602.4,431.25" fill="#ee3c3e"/>
<polygon points="602.7,449.32 608.5,449.32 605.6,444.25" fill="#ee3c3e"/>
<polygon points="603.7,428.32 609.5,428.32 606.6,423.25" fill="#ee3c3e"/>
<polygon points="605.1,441.32 610.9,441.32 608,436.25" fill="#ee3c3e"/>
<polygon points="606.1,453.32 611.9,453.32 609,448.25" fill="#ee3c3e"/>
<polygon points="609.5,436.32 615.3,436.32 612.4,431.25" fill="#ee3c3e"/>
<polygon points="611.5,443.32 617.3,443.32 614.4,438.25" fill="#ee3c3e"/>
<polygon points="614.1,460.32 619.9,460.32 617,455.25" fill="#ee3c3e"/>
<polygon points="617.1,441.32 622.9,441.32 620,436.25" fill="#ee3c3e"/>
<polygon points="618.5,447.32 624.3,447.32 621.4,442.25" fill="#ee3c3e"/>
<polygon points="619.1,459.32 624.9,459.32 622,454.25" fill="#ee3c3e"/>
<polygon points="618.9,450.32 624.7,450.32 621.8,445.25" fill="#ee3c3e"/>
<polygon points="619.5,442.32 625.3,442.32 622.4,437.25" fill="#ee3c3e"/>
<polygon points="619.5,438.32 625.3,438.32 622.4,433.25" fill="#ee3c3e"/>
<polygon points="619.3,434.82 625.1,434.82 622.2,429.75" fill="#ee3c3e"/>
<polygon points="619.1,432.32 624.9,432.32 622,427.25" fill="#ee3c3e"/>
<polygon points="619.5,423.32 625.3,423.32 622.4,418.25" fill="#ee3c3e"/>
<polygon points="619.7,411.32 625.5,411.32 622.6,406.25" fill="#ee3c3e"/>
<polygon points="620.3,409.32 626.1,409.32 623.2,404.25" fill="#ee3c3e"/>
<polygon points="629.7,469.32 635.5,469.32 632.6,464.25" fill="#ee3c3e"/>
<line x1="490" y1="362" x2="568.4" y2="446.78" stroke="#000" stroke-width="2.0"/><polygon points="576,455 564.39,447.75 569.68,442.86" fill="#000"/>
<line x1="578" y1="453.6" x2="625.8" y2="454.73" stroke="#000" stroke-width="2.0"/><polygon points="637,455 623.72,458.29 623.89,451.09" fill="#000"/>
<line x1="382" y1="278.2" x2="650.8" y2="278.2" stroke="#444" stroke-width="1.2"/>
<line x1="382" y1="495" x2="650.8" y2="495" stroke="#3a3a3a" stroke-width="1.3"/>
<line x1="381.55" y1="495" x2="381.55" y2="492.7" stroke="#3a3a3a" stroke-width="1.1"/>
<line x1="392.32" y1="495" x2="392.32" y2="490.7" stroke="#3a3a3a" stroke-width="1.1"/>
<text x="392.32" y="509.4" text-anchor="middle" fill="#222" font-size="12.25">4</text>
<line x1="403.09" y1="495" x2="403.09" y2="492.7" stroke="#3a3a3a" stroke-width="1.1"/>
<line x1="413.86" y1="495" x2="413.86" y2="490.7" stroke="#3a3a3a" stroke-width="1.1"/>
<text x="413.86" y="509.4" text-anchor="middle" fill="#222" font-size="12.25">6</text>
<line x1="424.63" y1="495" x2="424.63" y2="492.7" stroke="#3a3a3a" stroke-width="1.1"/>
<line x1="435.4" y1="495" x2="435.4" y2="490.7" stroke="#3a3a3a" stroke-width="1.1"/>
<text x="435.4" y="509.4" text-anchor="middle" fill="#222" font-size="12.25">8</text>
<line x1="446.17" y1="495" x2="446.17" y2="492.7" stroke="#3a3a3a" stroke-width="1.1"/>
<line x1="456.94" y1="495" x2="456.94" y2="490.7" stroke="#3a3a3a" stroke-width="1.1"/>
<text x="456.94" y="509.4" text-anchor="middle" fill="#222" font-size="12.25">10</text>
<line x1="467.71" y1="495" x2="467.71" y2="492.7" stroke="#3a3a3a" stroke-width="1.1"/>
<line x1="478.48" y1="495" x2="478.48" y2="490.7" stroke="#3a3a3a" stroke-width="1.1"/>
<text x="478.48" y="509.4" text-anchor="middle" fill="#222" font-size="12.25">12</text>
<line x1="489.25" y1="495" x2="489.25" y2="492.7" stroke="#3a3a3a" stroke-width="1.1"/>
<line x1="500.02" y1="495" x2="500.02" y2="490.7" stroke="#3a3a3a" stroke-width="1.1"/>
<text x="500.02" y="509.4" text-anchor="middle" fill="#222" font-size="12.25">14</text>
<line x1="510.79" y1="495" x2="510.79" y2="492.7" stroke="#3a3a3a" stroke-width="1.1"/>
<line x1="521.56" y1="495" x2="521.56" y2="490.7" stroke="#3a3a3a" stroke-width="1.1"/>
<text x="521.56" y="509.4" text-anchor="middle" fill="#222" font-size="12.25">16</text>
<line x1="532.33" y1="495" x2="532.33" y2="492.7" stroke="#3a3a3a" stroke-width="1.1"/>
<line x1="543.1" y1="495" x2="543.1" y2="490.7" stroke="#3a3a3a" stroke-width="1.1"/>
<text x="543.1" y="509.4" text-anchor="middle" fill="#222" font-size="12.25">18</text>
<line x1="553.87" y1="495" x2="553.87" y2="492.7" stroke="#3a3a3a" stroke-width="1.1"/>
<line x1="564.64" y1="495" x2="564.64" y2="490.7" stroke="#3a3a3a" stroke-width="1.1"/>
<text x="564.64" y="509.4" text-anchor="middle" fill="#222" font-size="12.25">20</text>
<line x1="575.41" y1="495" x2="575.41" y2="492.7" stroke="#3a3a3a" stroke-width="1.1"/>
<line x1="586.18" y1="495" x2="586.18" y2="490.7" stroke="#3a3a3a" stroke-width="1.1"/>
<text x="586.18" y="509.4" text-anchor="middle" fill="#222" font-size="12.25">22</text>
<line x1="596.95" y1="495" x2="596.95" y2="492.7" stroke="#3a3a3a" stroke-width="1.1"/>
<line x1="607.72" y1="495" x2="607.72" y2="490.7" stroke="#3a3a3a" stroke-width="1.1"/>
<text x="607.72" y="509.4" text-anchor="middle" fill="#222" font-size="12.25">24</text>
<line x1="618.49" y1="495" x2="618.49" y2="492.7" stroke="#3a3a3a" stroke-width="1.1"/>
<line x1="629.26" y1="495" x2="629.26" y2="490.7" stroke="#3a3a3a" stroke-width="1.1"/>
<text x="629.26" y="509.4" text-anchor="middle" fill="#222" font-size="12.25">26</text>
<line x1="640.03" y1="495" x2="640.03" y2="492.7" stroke="#3a3a3a" stroke-width="1.1"/>
<line x1="650.8" y1="495" x2="650.8" y2="490.7" stroke="#3a3a3a" stroke-width="1.1"/>
<text x="650.8" y="509.4" text-anchor="middle" fill="#222" font-size="12.25">28</text>
<line x1="382" y1="277.6" x2="382" y2="495.6" stroke="#1c1cf0" stroke-width="1.6"/>
<line x1="382" y1="495" x2="386.3" y2="495" stroke="#1c1cf0" stroke-width="1.1"/>
<text x="377.4" y="498.6" text-anchor="end" fill="#1c1cf0" font-size="12.25">0</text>
<line x1="382" y1="483.59" x2="384.3" y2="483.59" stroke="#1c1cf0" stroke-width="1.1"/>
<line x1="382" y1="472.18" x2="386.3" y2="472.18" stroke="#1c1cf0" stroke-width="1.1"/>
<text x="377.4" y="475.78" text-anchor="end" fill="#1c1cf0" font-size="12.25">10</text>
<line x1="382" y1="460.77" x2="384.3" y2="460.77" stroke="#1c1cf0" stroke-width="1.1"/>
<line x1="382" y1="449.36" x2="386.3" y2="449.36" stroke="#1c1cf0" stroke-width="1.1"/>
<text x="377.4" y="452.96" text-anchor="end" fill="#1c1cf0" font-size="12.25">20</text>
<line x1="382" y1="437.95" x2="384.3" y2="437.95" stroke="#1c1cf0" stroke-width="1.1"/>
<line x1="382" y1="426.54" x2="386.3" y2="426.54" stroke="#1c1cf0" stroke-width="1.1"/>
<text x="377.4" y="430.14" text-anchor="end" fill="#1c1cf0" font-size="12.25">30</text>
<line x1="382" y1="415.13" x2="384.3" y2="415.13" stroke="#1c1cf0" stroke-width="1.1"/>
<line x1="382" y1="403.72" x2="386.3" y2="403.72" stroke="#1c1cf0" stroke-width="1.1"/>
<text x="377.4" y="407.32" text-anchor="end" fill="#1c1cf0" font-size="12.25">40</text>
<line x1="382" y1="392.31" x2="384.3" y2="392.31" stroke="#1c1cf0" stroke-width="1.1"/>
<line x1="382" y1="380.89" x2="386.3" y2="380.89" stroke="#1c1cf0" stroke-width="1.1"/>
<text x="377.4" y="384.49" text-anchor="end" fill="#1c1cf0" font-size="12.25">50</text>
<line x1="382" y1="369.48" x2="384.3" y2="369.48" stroke="#1c1cf0" stroke-width="1.1"/>
<line x1="382" y1="358.07" x2="386.3" y2="358.07" stroke="#1c1cf0" stroke-width="1.1"/>
<text x="377.4" y="361.67" text-anchor="end" fill="#1c1cf0" font-size="12.25">60</text>
<line x1="382" y1="346.66" x2="384.3" y2="346.66" stroke="#1c1cf0" stroke-width="1.1"/>
<line x1="382" y1="335.25" x2="386.3" y2="335.25" stroke="#1c1cf0" stroke-width="1.1"/>
<text x="377.4" y="338.85" text-anchor="end" fill="#1c1cf0" font-size="12.25">70</text>
<line x1="382" y1="323.84" x2="384.3" y2="323.84" stroke="#1c1cf0" stroke-width="1.1"/>
<line x1="382" y1="312.43" x2="386.3" y2="312.43" stroke="#1c1cf0" stroke-width="1.1"/>
<text x="377.4" y="316.03" text-anchor="end" fill="#1c1cf0" font-size="12.25">80</text>
<line x1="382" y1="301.02" x2="384.3" y2="301.02" stroke="#1c1cf0" stroke-width="1.1"/>
<line x1="382" y1="289.61" x2="386.3" y2="289.61" stroke="#1c1cf0" stroke-width="1.1"/>
<text x="377.4" y="293.21" text-anchor="end" fill="#1c1cf0" font-size="12.25">90</text>
<line x1="382" y1="278.2" x2="384.3" y2="278.2" stroke="#1c1cf0" stroke-width="1.1"/>
<line x1="650.8" y1="277.6" x2="650.8" y2="495.6" stroke="#f4606a" stroke-width="1.05"/>
<line x1="650.8" y1="495" x2="646.3" y2="495" stroke="#f4606a" stroke-width="0.95"/>
<text x="656" y="498.5" fill="#f4555a" font-size="12">0.0</text>
<line x1="650.8" y1="479.51" x2="648.2" y2="479.51" stroke="#f4606a" stroke-width="0.95"/>
<line x1="650.8" y1="464.03" x2="646.3" y2="464.03" stroke="#f4606a" stroke-width="0.95"/>
<text x="656" y="467.53" fill="#f4555a" font-size="12">0.2</text>
<line x1="650.8" y1="448.54" x2="648.2" y2="448.54" stroke="#f4606a" stroke-width="0.95"/>
<line x1="650.8" y1="433.06" x2="646.3" y2="433.06" stroke="#f4606a" stroke-width="0.95"/>
<text x="656" y="436.56" fill="#f4555a" font-size="12">0.4</text>
<line x1="650.8" y1="417.57" x2="648.2" y2="417.57" stroke="#f4606a" stroke-width="0.95"/>
<line x1="650.8" y1="402.09" x2="646.3" y2="402.09" stroke="#f4606a" stroke-width="0.95"/>
<text x="656" y="405.59" fill="#f4555a" font-size="12">0.6</text>
<line x1="650.8" y1="386.6" x2="648.2" y2="386.6" stroke="#f4606a" stroke-width="0.95"/>
<line x1="650.8" y1="371.11" x2="646.3" y2="371.11" stroke="#f4606a" stroke-width="0.95"/>
<text x="656" y="374.61" fill="#f4555a" font-size="12">0.8</text>
<line x1="650.8" y1="355.63" x2="648.2" y2="355.63" stroke="#f4606a" stroke-width="0.95"/>
<line x1="650.8" y1="340.14" x2="646.3" y2="340.14" stroke="#f4606a" stroke-width="0.95"/>
<text x="656" y="343.64" fill="#f4555a" font-size="12">1.0</text>
<line x1="650.8" y1="324.66" x2="648.2" y2="324.66" stroke="#f4606a" stroke-width="0.95"/>
<line x1="650.8" y1="309.17" x2="646.3" y2="309.17" stroke="#f4606a" stroke-width="0.95"/>
<text x="656" y="312.67" fill="#f4555a" font-size="12">1.2</text>
<line x1="650.8" y1="293.69" x2="648.2" y2="293.69" stroke="#f4606a" stroke-width="0.95"/>
<line x1="650.8" y1="278.2" x2="646.3" y2="278.2" stroke="#f4606a" stroke-width="0.95"/>
<text x="656" y="281.7" fill="#f4555a" font-size="12">1.4</text>
<line x1="399.4" y1="293.4" x2="426" y2="293.4" stroke="#1c1cf0" stroke-width="1.3"/>
<text x="430" y="297" font-size="12.15" fill="#111" class="k">deviatoric stress</text>
<line x1="399.4" y1="308.4" x2="426" y2="308.4" stroke="#f4555a" stroke-width="0.6"/>
<polygon points="410.1,310.36 415.5,310.36 412.8,305.63" fill="#ee3c3e"/>
<text x="430" y="312" font-size="12" fill="#111" class="k"><tspan font-style="italic">b</tspan>-value</text>
<text x="403" y="326.6" font-size="12" fill="#111" class="k">35 MPa</text>
<text transform="translate(361,386.6) rotate(-90)" text-anchor="middle" font-size="12.2" fill="#111" class="k">deviatoric stress/MPa</text>
<text transform="translate(683,386.6) rotate(-90)" text-anchor="middle" font-size="12" fill="#111" class="k"><tspan font-style="italic">b</tspan>-value</text>
<text x="518.6" y="524.6" text-anchor="middle" font-size="12" fill="#111" class="k">Steps/10<tspan font-size="7.5" dy="-5">4</tspan></text>
<text x="512.5" y="537" text-anchor="middle" font-size="12" fill="#111" class="k">(d)</text>
</g>
<g>
<rect x="35.9" y="554.4" width="158.1" height="213.4" fill="#f3d595"/>
<rect x="194" y="554.4" width="53" height="213.4" fill="#f3ec96"/>
<rect x="247" y="554.4" width="53.6" height="213.4" fill="#cdf398"/>
<polyline points="59.9,767.8 76,746.7 92.1,725 108.2,702.6 124.2,680.9 140.3,661.7 156.3,644 163,636.3 173,626 183,616 193,607.6 203,599.6 213,592 223,586 231,581 235.4,578.4 236.6,582 238,580 239.4,584 246,579 246.6,594 247,634 247.6,672 255,672 257,673 261,673 263,678 266,682 272,682 274,687 277,690 278.6,692.6" fill="none" stroke="#454545" stroke-width="1.15" stroke-linejoin="round"/>
<polyline points="138,621.6 148.6,621.6 156,621.6 161.6,662 167.4,585 172,662 177.4,700 182.4,642.6 186.4,678.6 190.4,720 193.6,621.6 198,678.6 201.6,720 205.6,699.6 209.6,708 213.4,743.4 217,699.6 220.4,719.6 223.4,699.6 227,720 230.4,724.6 234.4,708 235.4,698 238.6,706 241.4,714 246.6,676.6 247,631.6 246.6,657.6 247,698 247,707 247.4,713 247.4,719 247.4,724 247.4,751 247.4,724 259.6,749" fill="none" stroke="#f4555a" stroke-width="0.5" stroke-linejoin="round"/>
<polygon points="135.1,623.92 140.9,623.92 138,618.85" fill="#ee3c3e"/>
<polygon points="145.7,623.92 151.5,623.92 148.6,618.85" fill="#ee3c3e"/>
<polygon points="153.1,623.92 158.9,623.92 156,618.85" fill="#ee3c3e"/>
<polygon points="158.7,664.32 164.5,664.32 161.6,659.25" fill="#ee3c3e"/>
<polygon points="164.5,587.32 170.3,587.32 167.4,582.25" fill="#ee3c3e"/>
<polygon points="169.1,664.32 174.9,664.32 172,659.25" fill="#ee3c3e"/>
<polygon points="174.5,702.32 180.3,702.32 177.4,697.25" fill="#ee3c3e"/>
<polygon points="179.5,644.92 185.3,644.92 182.4,639.85" fill="#ee3c3e"/>
<polygon points="183.5,680.92 189.3,680.92 186.4,675.85" fill="#ee3c3e"/>
<polygon points="187.5,722.32 193.3,722.32 190.4,717.25" fill="#ee3c3e"/>
<polygon points="190.7,623.92 196.5,623.92 193.6,618.85" fill="#ee3c3e"/>
<polygon points="195.1,680.92 200.9,680.92 198,675.85" fill="#ee3c3e"/>
<polygon points="198.7,722.32 204.5,722.32 201.6,717.25" fill="#ee3c3e"/>
<polygon points="202.7,701.92 208.5,701.92 205.6,696.85" fill="#ee3c3e"/>
<polygon points="206.7,710.32 212.5,710.32 209.6,705.25" fill="#ee3c3e"/>
<polygon points="210.5,745.72 216.3,745.72 213.4,740.64" fill="#ee3c3e"/>
<polygon points="214.1,701.92 219.9,701.92 217,696.85" fill="#ee3c3e"/>
<polygon points="217.5,721.92 223.3,721.92 220.4,716.85" fill="#ee3c3e"/>
<polygon points="220.5,701.92 226.3,701.92 223.4,696.85" fill="#ee3c3e"/>
<polygon points="224.1,722.32 229.9,722.32 227,717.25" fill="#ee3c3e"/>
<polygon points="227.5,726.92 233.3,726.92 230.4,721.85" fill="#ee3c3e"/>
<polygon points="231.5,710.32 237.3,710.32 234.4,705.25" fill="#ee3c3e"/>
<polygon points="232.5,700.32 238.3,700.32 235.4,695.25" fill="#ee3c3e"/>
<polygon points="235.7,708.32 241.5,708.32 238.6,703.25" fill="#ee3c3e"/>
<polygon points="238.5,716.32 244.3,716.32 241.4,711.25" fill="#ee3c3e"/>
<polygon points="243.7,678.92 249.5,678.92 246.6,673.85" fill="#ee3c3e"/>
<polygon points="244.1,633.92 249.9,633.92 247,628.85" fill="#ee3c3e"/>
<polygon points="243.7,659.92 249.5,659.92 246.6,654.85" fill="#ee3c3e"/>
<polygon points="244.1,700.32 249.9,700.32 247,695.25" fill="#ee3c3e"/>
<polygon points="244.1,709.32 249.9,709.32 247,704.25" fill="#ee3c3e"/>
<polygon points="244.5,715.32 250.3,715.32 247.4,710.25" fill="#ee3c3e"/>
<polygon points="244.5,721.32 250.3,721.32 247.4,716.25" fill="#ee3c3e"/>
<polygon points="244.5,726.32 250.3,726.32 247.4,721.25" fill="#ee3c3e"/>
<polygon points="244.5,753.32 250.3,753.32 247.4,748.25" fill="#ee3c3e"/>
<polygon points="244.5,726.32 250.3,726.32 247.4,721.25" fill="#ee3c3e"/>
<polygon points="256.7,751.32 262.5,751.32 259.6,746.25" fill="#ee3c3e"/>
<line x1="155.6" y1="583.6" x2="192.55" y2="714.22" stroke="#000" stroke-width="2.0"/><polygon points="195.6,725 188.54,713.28 195.47,711.32" fill="#000"/>
<line x1="198" y1="715.4" x2="239.2" y2="715.4" stroke="#000" stroke-width="2.0"/><polygon points="250.4,715.4 237.2,719 237.2,711.8" fill="#000"/>
<line x1="35.9" y1="554.4" x2="300.6" y2="554.4" stroke="#444" stroke-width="1.2"/>
<line x1="35.9" y1="767.8" x2="300.6" y2="767.8" stroke="#3a3a3a" stroke-width="1.3"/>
<line x1="35.55" y1="767.8" x2="35.55" y2="765.5" stroke="#3a3a3a" stroke-width="1.1"/>
<line x1="44.1" y1="767.8" x2="44.1" y2="763.5" stroke="#3a3a3a" stroke-width="1.1"/>
<text x="44.1" y="781.5" text-anchor="middle" fill="#222" font-size="12.25">4</text>
<line x1="52.65" y1="767.8" x2="52.65" y2="765.5" stroke="#3a3a3a" stroke-width="1.1"/>
<line x1="61.2" y1="767.8" x2="61.2" y2="763.5" stroke="#3a3a3a" stroke-width="1.1"/>
<text x="61.2" y="781.5" text-anchor="middle" fill="#222" font-size="12.25">6</text>
<line x1="69.75" y1="767.8" x2="69.75" y2="765.5" stroke="#3a3a3a" stroke-width="1.1"/>
<line x1="78.3" y1="767.8" x2="78.3" y2="763.5" stroke="#3a3a3a" stroke-width="1.1"/>
<text x="78.3" y="781.5" text-anchor="middle" fill="#222" font-size="12.25">8</text>
<line x1="86.85" y1="767.8" x2="86.85" y2="765.5" stroke="#3a3a3a" stroke-width="1.1"/>
<line x1="95.4" y1="767.8" x2="95.4" y2="763.5" stroke="#3a3a3a" stroke-width="1.1"/>
<text x="95.4" y="781.5" text-anchor="middle" fill="#222" font-size="12.25">10</text>
<line x1="103.95" y1="767.8" x2="103.95" y2="765.5" stroke="#3a3a3a" stroke-width="1.1"/>
<line x1="112.5" y1="767.8" x2="112.5" y2="763.5" stroke="#3a3a3a" stroke-width="1.1"/>
<text x="112.5" y="781.5" text-anchor="middle" fill="#222" font-size="12.25">12</text>
<line x1="121.05" y1="767.8" x2="121.05" y2="765.5" stroke="#3a3a3a" stroke-width="1.1"/>
<line x1="129.6" y1="767.8" x2="129.6" y2="763.5" stroke="#3a3a3a" stroke-width="1.1"/>
<text x="129.6" y="781.5" text-anchor="middle" fill="#222" font-size="12.25">14</text>
<line x1="138.15" y1="767.8" x2="138.15" y2="765.5" stroke="#3a3a3a" stroke-width="1.1"/>
<line x1="146.7" y1="767.8" x2="146.7" y2="763.5" stroke="#3a3a3a" stroke-width="1.1"/>
<text x="146.7" y="781.5" text-anchor="middle" fill="#222" font-size="12.25">16</text>
<line x1="155.25" y1="767.8" x2="155.25" y2="765.5" stroke="#3a3a3a" stroke-width="1.1"/>
<line x1="163.8" y1="767.8" x2="163.8" y2="763.5" stroke="#3a3a3a" stroke-width="1.1"/>
<text x="163.8" y="781.5" text-anchor="middle" fill="#222" font-size="12.25">18</text>
<line x1="172.35" y1="767.8" x2="172.35" y2="765.5" stroke="#3a3a3a" stroke-width="1.1"/>
<line x1="180.9" y1="767.8" x2="180.9" y2="763.5" stroke="#3a3a3a" stroke-width="1.1"/>
<text x="180.9" y="781.5" text-anchor="middle" fill="#222" font-size="12.25">20</text>
<line x1="189.45" y1="767.8" x2="189.45" y2="765.5" stroke="#3a3a3a" stroke-width="1.1"/>
<line x1="198" y1="767.8" x2="198" y2="763.5" stroke="#3a3a3a" stroke-width="1.1"/>
<text x="198" y="781.5" text-anchor="middle" fill="#222" font-size="12.25">22</text>
<line x1="206.55" y1="767.8" x2="206.55" y2="765.5" stroke="#3a3a3a" stroke-width="1.1"/>
<line x1="215.1" y1="767.8" x2="215.1" y2="763.5" stroke="#3a3a3a" stroke-width="1.1"/>
<text x="215.1" y="781.5" text-anchor="middle" fill="#222" font-size="12.25">24</text>
<line x1="223.65" y1="767.8" x2="223.65" y2="765.5" stroke="#3a3a3a" stroke-width="1.1"/>
<line x1="232.2" y1="767.8" x2="232.2" y2="763.5" stroke="#3a3a3a" stroke-width="1.1"/>
<text x="232.2" y="781.5" text-anchor="middle" fill="#222" font-size="12.25">26</text>
<line x1="240.75" y1="767.8" x2="240.75" y2="765.5" stroke="#3a3a3a" stroke-width="1.1"/>
<line x1="249.3" y1="767.8" x2="249.3" y2="763.5" stroke="#3a3a3a" stroke-width="1.1"/>
<text x="249.3" y="781.5" text-anchor="middle" fill="#222" font-size="12.25">28</text>
<line x1="257.85" y1="767.8" x2="257.85" y2="765.5" stroke="#3a3a3a" stroke-width="1.1"/>
<line x1="266.4" y1="767.8" x2="266.4" y2="763.5" stroke="#3a3a3a" stroke-width="1.1"/>
<text x="266.4" y="781.5" text-anchor="middle" fill="#222" font-size="12.25">30</text>
<line x1="274.95" y1="767.8" x2="274.95" y2="765.5" stroke="#3a3a3a" stroke-width="1.1"/>
<line x1="283.5" y1="767.8" x2="283.5" y2="763.5" stroke="#3a3a3a" stroke-width="1.1"/>
<text x="283.5" y="781.5" text-anchor="middle" fill="#222" font-size="12.25">32</text>
<line x1="292.05" y1="767.8" x2="292.05" y2="765.5" stroke="#3a3a3a" stroke-width="1.1"/>
<line x1="300.6" y1="767.8" x2="300.6" y2="763.5" stroke="#3a3a3a" stroke-width="1.1"/>
<text x="300.6" y="781.5" text-anchor="middle" fill="#222" font-size="12.25">34</text>
<line x1="35.9" y1="553.8" x2="35.9" y2="768.4" stroke="#505050" stroke-width="1.1"/>
<line x1="35.9" y1="767.8" x2="40.2" y2="767.8" stroke="#505050" stroke-width="1.1"/>
<text x="31.3" y="771.4" text-anchor="end" fill="#444" font-size="12.25">0</text>
<line x1="35.9" y1="748.4" x2="38.2" y2="748.4" stroke="#505050" stroke-width="1.1"/>
<line x1="35.9" y1="729" x2="40.2" y2="729" stroke="#505050" stroke-width="1.1"/>
<text x="31.3" y="732.6" text-anchor="end" fill="#444" font-size="12.25">20</text>
<line x1="35.9" y1="709.6" x2="38.2" y2="709.6" stroke="#505050" stroke-width="1.1"/>
<line x1="35.9" y1="690.2" x2="40.2" y2="690.2" stroke="#505050" stroke-width="1.1"/>
<text x="31.3" y="693.8" text-anchor="end" fill="#444" font-size="12.25">40</text>
<line x1="35.9" y1="670.8" x2="38.2" y2="670.8" stroke="#505050" stroke-width="1.1"/>
<line x1="35.9" y1="651.4" x2="40.2" y2="651.4" stroke="#505050" stroke-width="1.1"/>
<text x="31.3" y="655" text-anchor="end" fill="#444" font-size="12.25">60</text>
<line x1="35.9" y1="632" x2="38.2" y2="632" stroke="#505050" stroke-width="1.1"/>
<line x1="35.9" y1="612.6" x2="40.2" y2="612.6" stroke="#505050" stroke-width="1.1"/>
<text x="31.3" y="616.2" text-anchor="end" fill="#444" font-size="12.25">80</text>
<line x1="35.9" y1="593.2" x2="38.2" y2="593.2" stroke="#505050" stroke-width="1.1"/>
<line x1="35.9" y1="573.8" x2="40.2" y2="573.8" stroke="#505050" stroke-width="1.1"/>
<text x="31.3" y="577.4" text-anchor="end" fill="#444" font-size="12.25">100</text>
<line x1="35.9" y1="554.4" x2="38.2" y2="554.4" stroke="#505050" stroke-width="1.1"/>
<line x1="300.6" y1="553.8" x2="300.6" y2="768.4" stroke="#f4606a" stroke-width="1.05"/>
<line x1="300.6" y1="767.8" x2="298" y2="767.8" stroke="#f4606a" stroke-width="0.95"/>
<line x1="300.6" y1="748.4" x2="296.1" y2="748.4" stroke="#f4606a" stroke-width="0.95"/>
<text x="305.8" y="751.9" fill="#f4555a" font-size="12">0.4</text>
<line x1="300.6" y1="729" x2="298" y2="729" stroke="#f4606a" stroke-width="0.95"/>
<line x1="300.6" y1="709.6" x2="296.1" y2="709.6" stroke="#f4606a" stroke-width="0.95"/>
<text x="305.8" y="713.1" fill="#f4555a" font-size="12">0.6</text>
<line x1="300.6" y1="690.2" x2="298" y2="690.2" stroke="#f4606a" stroke-width="0.95"/>
<line x1="300.6" y1="670.8" x2="296.1" y2="670.8" stroke="#f4606a" stroke-width="0.95"/>
<text x="305.8" y="674.3" fill="#f4555a" font-size="12">0.8</text>
<line x1="300.6" y1="651.4" x2="298" y2="651.4" stroke="#f4606a" stroke-width="0.95"/>
<line x1="300.6" y1="632" x2="296.1" y2="632" stroke="#f4606a" stroke-width="0.95"/>
<text x="305.8" y="635.5" fill="#f4555a" font-size="12">1.0</text>
<line x1="300.6" y1="612.6" x2="298" y2="612.6" stroke="#f4606a" stroke-width="0.95"/>
<line x1="300.6" y1="593.2" x2="296.1" y2="593.2" stroke="#f4606a" stroke-width="0.95"/>
<text x="305.8" y="596.7" fill="#f4555a" font-size="12">1.2</text>
<line x1="300.6" y1="573.8" x2="298" y2="573.8" stroke="#f4606a" stroke-width="0.95"/>
<line x1="300.6" y1="554.4" x2="296.1" y2="554.4" stroke="#f4606a" stroke-width="0.95"/>
<text x="305.8" y="557.9" fill="#f4555a" font-size="12">1.4</text>
<line x1="52.4" y1="569.4" x2="79" y2="569.4" stroke="#454545" stroke-width="1.15"/>
<text x="83" y="573" font-size="12.15" fill="#111" class="k">deviatoric stress</text>
<line x1="52.4" y1="584.4" x2="79" y2="584.4" stroke="#f4555a" stroke-width="0.6"/>
<polygon points="63.1,586.36 68.5,586.36 65.8,581.63" fill="#ee3c3e"/>
<text x="83" y="588" font-size="12" fill="#111" class="k"><tspan font-style="italic">b</tspan>-value</text>
<text x="56.6" y="601" font-size="11" fill="#111" class="k">45 MPa</text>
<text transform="translate(9.4,661.1) rotate(-90)" text-anchor="middle" font-size="12.2" fill="#111" class="k">deviatoric stress/MPa</text>
<text transform="translate(333.5,661.1) rotate(-90)" text-anchor="middle" font-size="12" fill="#111" class="k"><tspan font-style="italic">b</tspan>-value</text>
<text x="170.3" y="795.7" text-anchor="middle" font-size="12" fill="#111" class="k">Steps/10<tspan font-size="7.5" dy="-5">4</tspan></text>
<text x="167.3" y="808.1" text-anchor="middle" font-size="11" fill="#111" class="k">(e)</text>
</g>
<g>
<rect x="388.2" y="554.5" width="173.8" height="212.4" fill="#f3d595"/>
<rect x="562" y="554.5" width="55" height="212.4" fill="#f3ec96"/>
<rect x="617" y="554.5" width="34.2" height="212.4" fill="#cdf398"/>
<polyline points="439.5,766.9 475.4,716 488,699 498,686 508,673 518,660 525,651 535,639 545,627.6 555,617 565,607 575,598 585,591 595,585 603,580 609,578 611,579 616,576.4 616.6,604 617.4,638 617.6,667 624,666 630.6,667 632,675.6" fill="none" stroke="#454545" stroke-width="1.15" stroke-linejoin="round"/>
<polyline points="497.5,723.5 525,656.6 544.4,651.4 548.4,692.4 552.6,692.4 557.6,707 562,722.4 566,712 569.6,706.6 573.4,722 577,729.4 580,711.4 583.6,712.4 587,706 590.6,737.4 594.4,726.4 596.6,691 600.4,691 603,735.4 605.4,726 608,746.6 609.6,704 612,691.4 617,640 617,642.6 617,660.6 617,683 617,688 617,692 617,699 617,707 617,713.6 617,726 617,731" fill="none" stroke="#f4555a" stroke-width="0.5" stroke-linejoin="round"/>
<line x1="617" y1="640" x2="617" y2="733" stroke="#f04a4c" stroke-width="1.4"/>
<line x1="617" y1="733" x2="617" y2="766" stroke="#f3a07a" stroke-width="0.8"/>
<polygon points="494.6,725.82 500.4,725.82 497.5,720.75" fill="#ee3c3e"/>
<polygon points="522.1,658.92 527.9,658.92 525,653.85" fill="#ee3c3e"/>
<polygon points="541.5,653.72 547.3,653.72 544.4,648.64" fill="#ee3c3e"/>
<polygon points="545.5,694.72 551.3,694.72 548.4,689.64" fill="#ee3c3e"/>
<polygon points="549.7,694.72 555.5,694.72 552.6,689.64" fill="#ee3c3e"/>
<polygon points="554.7,709.32 560.5,709.32 557.6,704.25" fill="#ee3c3e"/>
<polygon points="559.1,724.72 564.9,724.72 562,719.64" fill="#ee3c3e"/>
<polygon points="563.1,714.32 568.9,714.32 566,709.25" fill="#ee3c3e"/>
<polygon points="566.7,708.92 572.5,708.92 569.6,703.85" fill="#ee3c3e"/>
<polygon points="570.5,724.32 576.3,724.32 573.4,719.25" fill="#ee3c3e"/>
<polygon points="574.1,731.72 579.9,731.72 577,726.64" fill="#ee3c3e"/>
<polygon points="577.1,713.72 582.9,713.72 580,708.64" fill="#ee3c3e"/>
<polygon points="580.7,714.72 586.5,714.72 583.6,709.64" fill="#ee3c3e"/>
<polygon points="584.1,708.32 589.9,708.32 587,703.25" fill="#ee3c3e"/>
<polygon points="587.7,739.72 593.5,739.72 590.6,734.64" fill="#ee3c3e"/>
<polygon points="591.5,728.72 597.3,728.72 594.4,723.64" fill="#ee3c3e"/>
<polygon points="593.7,693.32 599.5,693.32 596.6,688.25" fill="#ee3c3e"/>
<polygon points="597.5,693.32 603.3,693.32 600.4,688.25" fill="#ee3c3e"/>
<polygon points="600.1,737.72 605.9,737.72 603,732.64" fill="#ee3c3e"/>
<polygon points="602.5,728.32 608.3,728.32 605.4,723.25" fill="#ee3c3e"/>
<polygon points="605.1,748.92 610.9,748.92 608,743.85" fill="#ee3c3e"/>
<polygon points="606.7,706.32 612.5,706.32 609.6,701.25" fill="#ee3c3e"/>
<polygon points="609.1,693.72 614.9,693.72 612,688.64" fill="#ee3c3e"/>
<polygon points="614.1,642.32 619.9,642.32 617,637.25" fill="#ee3c3e"/>
<polygon points="614.1,644.92 619.9,644.92 617,639.85" fill="#ee3c3e"/>
<polygon points="614.1,662.92 619.9,662.92 617,657.85" fill="#ee3c3e"/>
<polygon points="614.1,685.32 619.9,685.32 617,680.25" fill="#ee3c3e"/>
<polygon points="614.1,690.32 619.9,690.32 617,685.25" fill="#ee3c3e"/>
<polygon points="614.1,694.32 619.9,694.32 617,689.25" fill="#ee3c3e"/>
<polygon points="614.1,701.32 619.9,701.32 617,696.25" fill="#ee3c3e"/>
<polygon points="614.1,709.32 619.9,709.32 617,704.25" fill="#ee3c3e"/>
<polygon points="614.1,715.92 619.9,715.92 617,710.85" fill="#ee3c3e"/>
<polygon points="614.1,728.32 619.9,728.32 617,723.25" fill="#ee3c3e"/>
<polygon points="614.1,733.32 619.9,733.32 617,728.25" fill="#ee3c3e"/>
<line x1="545" y1="645" x2="558.8" y2="702.71" stroke="#000" stroke-width="2.0"/><polygon points="561.4,713.6 554.83,701.6 561.83,699.92" fill="#000"/>
<line x1="564" y1="714.4" x2="611.95" y2="722.2" stroke="#000" stroke-width="2.0"/><polygon points="623,724 609.39,725.43 610.55,718.33" fill="#000"/>
<line x1="388.2" y1="554.5" x2="651.2" y2="554.5" stroke="#444" stroke-width="1.2"/>
<line x1="388.2" y1="766.9" x2="651.2" y2="766.9" stroke="#3a3a3a" stroke-width="1.3"/>
<line x1="388.2" y1="766.9" x2="388.2" y2="762.6" stroke="#3a3a3a" stroke-width="1.1"/>
<text x="388.2" y="781" text-anchor="middle" fill="#222" font-size="12.25">0</text>
<line x1="403.3" y1="766.9" x2="403.3" y2="764.6" stroke="#3a3a3a" stroke-width="1.1"/>
<line x1="418.4" y1="766.9" x2="418.4" y2="762.6" stroke="#3a3a3a" stroke-width="1.1"/>
<text x="418.4" y="781" text-anchor="middle" fill="#222" font-size="12.25">4</text>
<line x1="433.5" y1="766.9" x2="433.5" y2="764.6" stroke="#3a3a3a" stroke-width="1.1"/>
<line x1="448.6" y1="766.9" x2="448.6" y2="762.6" stroke="#3a3a3a" stroke-width="1.1"/>
<text x="448.6" y="781" text-anchor="middle" fill="#222" font-size="12.25">8</text>
<line x1="463.7" y1="766.9" x2="463.7" y2="764.6" stroke="#3a3a3a" stroke-width="1.1"/>
<line x1="478.8" y1="766.9" x2="478.8" y2="762.6" stroke="#3a3a3a" stroke-width="1.1"/>
<text x="478.8" y="781" text-anchor="middle" fill="#222" font-size="12.25">12</text>
<line x1="493.9" y1="766.9" x2="493.9" y2="764.6" stroke="#3a3a3a" stroke-width="1.1"/>
<line x1="509" y1="766.9" x2="509" y2="762.6" stroke="#3a3a3a" stroke-width="1.1"/>
<text x="509" y="781" text-anchor="middle" fill="#222" font-size="12.25">16</text>
<line x1="524.1" y1="766.9" x2="524.1" y2="764.6" stroke="#3a3a3a" stroke-width="1.1"/>
<line x1="539.2" y1="766.9" x2="539.2" y2="762.6" stroke="#3a3a3a" stroke-width="1.1"/>
<text x="539.2" y="781" text-anchor="middle" fill="#222" font-size="12.25">20</text>
<line x1="554.3" y1="766.9" x2="554.3" y2="764.6" stroke="#3a3a3a" stroke-width="1.1"/>
<line x1="569.4" y1="766.9" x2="569.4" y2="762.6" stroke="#3a3a3a" stroke-width="1.1"/>
<text x="569.4" y="781" text-anchor="middle" fill="#222" font-size="12.25">24</text>
<line x1="584.5" y1="766.9" x2="584.5" y2="764.6" stroke="#3a3a3a" stroke-width="1.1"/>
<line x1="599.6" y1="766.9" x2="599.6" y2="762.6" stroke="#3a3a3a" stroke-width="1.1"/>
<text x="599.6" y="781" text-anchor="middle" fill="#222" font-size="12.25">28</text>
<line x1="614.7" y1="766.9" x2="614.7" y2="764.6" stroke="#3a3a3a" stroke-width="1.1"/>
<line x1="629.8" y1="766.9" x2="629.8" y2="762.6" stroke="#3a3a3a" stroke-width="1.1"/>
<text x="629.8" y="781" text-anchor="middle" fill="#222" font-size="12.25">32</text>
<line x1="644.9" y1="766.9" x2="644.9" y2="764.6" stroke="#3a3a3a" stroke-width="1.1"/>
<line x1="388.2" y1="553.9" x2="388.2" y2="767.5" stroke="#505050" stroke-width="1.1"/>
<line x1="388.2" y1="766.9" x2="392.5" y2="766.9" stroke="#505050" stroke-width="1.1"/>
<text x="383.6" y="770.5" text-anchor="end" fill="#444" font-size="12.25">0</text>
<line x1="388.2" y1="749.2" x2="390.5" y2="749.2" stroke="#505050" stroke-width="1.1"/>
<line x1="388.2" y1="731.5" x2="392.5" y2="731.5" stroke="#505050" stroke-width="1.1"/>
<text x="383.6" y="735.1" text-anchor="end" fill="#444" font-size="12.25">20</text>
<line x1="388.2" y1="713.8" x2="390.5" y2="713.8" stroke="#505050" stroke-width="1.1"/>
<line x1="388.2" y1="696.1" x2="392.5" y2="696.1" stroke="#505050" stroke-width="1.1"/>
<text x="383.6" y="699.7" text-anchor="end" fill="#444" font-size="12.25">40</text>
<line x1="388.2" y1="678.4" x2="390.5" y2="678.4" stroke="#505050" stroke-width="1.1"/>
<line x1="388.2" y1="660.7" x2="392.5" y2="660.7" stroke="#505050" stroke-width="1.1"/>
<text x="383.6" y="664.3" text-anchor="end" fill="#444" font-size="12.25">60</text>
<line x1="388.2" y1="643" x2="390.5" y2="643" stroke="#505050" stroke-width="1.1"/>
<line x1="388.2" y1="625.3" x2="392.5" y2="625.3" stroke="#505050" stroke-width="1.1"/>
<text x="383.6" y="628.9" text-anchor="end" fill="#444" font-size="12.25">80</text>
<line x1="388.2" y1="607.6" x2="390.5" y2="607.6" stroke="#505050" stroke-width="1.1"/>
<line x1="388.2" y1="589.9" x2="392.5" y2="589.9" stroke="#505050" stroke-width="1.1"/>
<text x="383.6" y="593.5" text-anchor="end" fill="#444" font-size="12.25">100</text>
<line x1="388.2" y1="572.2" x2="390.5" y2="572.2" stroke="#505050" stroke-width="1.1"/>
<line x1="388.2" y1="554.5" x2="392.5" y2="554.5" stroke="#505050" stroke-width="1.1"/>
<text x="383.6" y="558.1" text-anchor="end" fill="#444" font-size="12.25">120</text>
<line x1="651.2" y1="553.9" x2="651.2" y2="767.5" stroke="#f4606a" stroke-width="1.05"/>
<line x1="651.2" y1="766.9" x2="648.6" y2="766.9" stroke="#f4606a" stroke-width="0.95"/>
<line x1="651.2" y1="747.59" x2="646.7" y2="747.59" stroke="#f4606a" stroke-width="0.95"/>
<text x="656.4" y="751.09" fill="#f4555a" font-size="12">0.4</text>
<line x1="651.2" y1="728.28" x2="648.6" y2="728.28" stroke="#f4606a" stroke-width="0.95"/>
<line x1="651.2" y1="708.97" x2="646.7" y2="708.97" stroke="#f4606a" stroke-width="0.95"/>
<text x="656.4" y="712.47" fill="#f4555a" font-size="12">0.6</text>
<line x1="651.2" y1="689.66" x2="648.6" y2="689.66" stroke="#f4606a" stroke-width="0.95"/>
<line x1="651.2" y1="670.35" x2="646.7" y2="670.35" stroke="#f4606a" stroke-width="0.95"/>
<text x="656.4" y="673.85" fill="#f4555a" font-size="12">0.8</text>
<line x1="651.2" y1="651.05" x2="648.6" y2="651.05" stroke="#f4606a" stroke-width="0.95"/>
<line x1="651.2" y1="631.74" x2="646.7" y2="631.74" stroke="#f4606a" stroke-width="0.95"/>
<text x="656.4" y="635.24" fill="#f4555a" font-size="12">1.0</text>
<line x1="651.2" y1="612.43" x2="648.6" y2="612.43" stroke="#f4606a" stroke-width="0.95"/>
<line x1="651.2" y1="593.12" x2="646.7" y2="593.12" stroke="#f4606a" stroke-width="0.95"/>
<text x="656.4" y="596.62" fill="#f4555a" font-size="12">1.2</text>
<line x1="651.2" y1="573.81" x2="648.6" y2="573.81" stroke="#f4606a" stroke-width="0.95"/>
<line x1="651.2" y1="554.5" x2="646.7" y2="554.5" stroke="#f4606a" stroke-width="0.95"/>
<text x="656.4" y="558" fill="#f4555a" font-size="12">1.4</text>
<line x1="405" y1="569.4" x2="431.6" y2="569.4" stroke="#454545" stroke-width="1.15"/>
<text x="435.6" y="573" font-size="12.15" fill="#111" class="k">deviatoric stress</text>
<line x1="405" y1="584.4" x2="431.6" y2="584.4" stroke="#f4555a" stroke-width="0.6"/>
<polygon points="415.7,586.36 421.1,586.36 418.4,581.63" fill="#ee3c3e"/>
<text x="435.6" y="588" font-size="12" fill="#111" class="k"><tspan font-style="italic">b</tspan>-value</text>
<text x="413" y="603.6" font-size="11" fill="#111" class="k">55 MPa</text>
<text transform="translate(362.6,660.7) rotate(-90)" text-anchor="middle" font-size="12.2" fill="#111" class="k">deviatoric stress/MPa</text>
<text transform="translate(683,660.7) rotate(-90)" text-anchor="middle" font-size="12" fill="#111" class="k"><tspan font-style="italic">b</tspan>-value</text>
<text x="518" y="796" text-anchor="middle" font-size="12" fill="#111" class="k">Steps/10<tspan font-size="7.5" dy="-5">4</tspan></text>
<text x="513.3" y="808" text-anchor="middle" font-size="11" fill="#111" class="k">(f)</text>
<text x="617" y="574" font-size="12" font-style="italic" fill="#111" class="k">σ<tspan font-size="8" dy="2.5">c</tspan></text>
</g>
</svg>
</body></html>
